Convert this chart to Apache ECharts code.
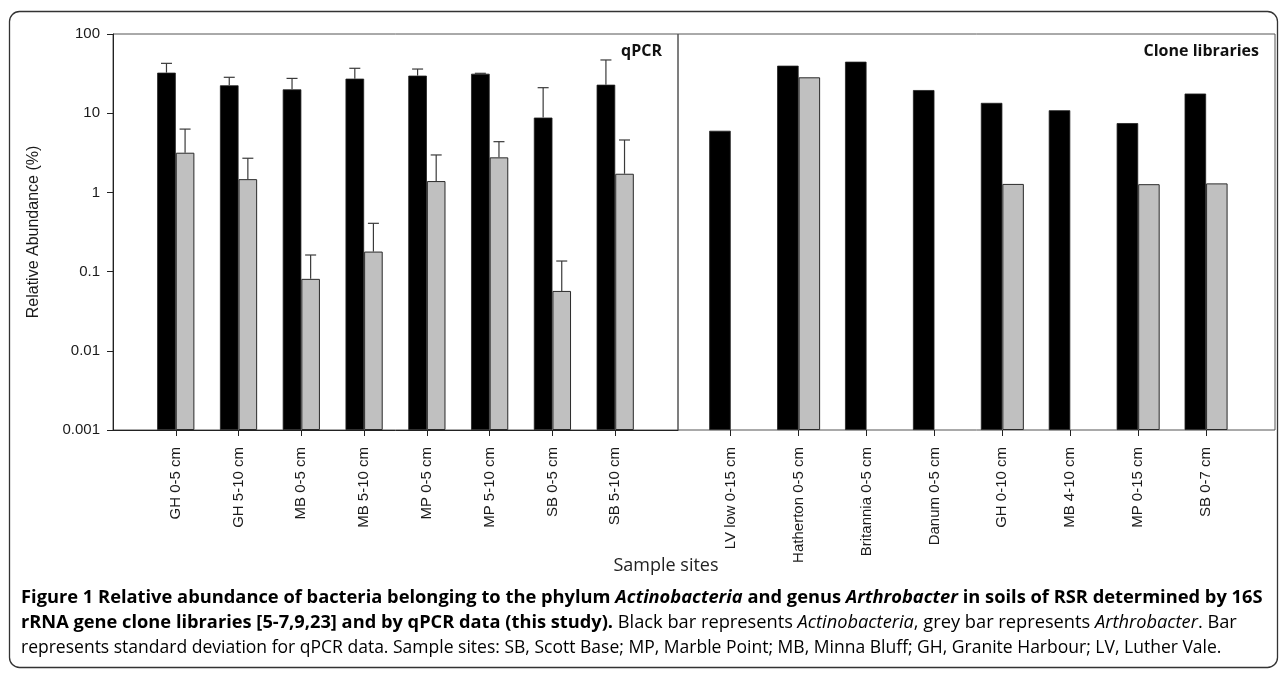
<!DOCTYPE html>
<html><head><meta charset="utf-8">
<script src="https://cdn.jsdelivr.net/npm/echarts@6/dist/echarts.min.js"></script>
<style>html,body{margin:0;padding:0;background:#fff}#c{width:1282px;height:675px}</style>
</head><body><div id="c"></div>
<script>
// ---------- data ----------
const qpcrSites = ['GH 0-5 cm','GH 5-10 cm','MB 0-5 cm','MB 5-10 cm','MP 0-5 cm','MP 5-10 cm','SB 0-5 cm','SB 5-10 cm'];
const qpcrActinobacteria   = [32.5, 22.5, 20.0, 27.3, 29.8, 31.5, 8.8, 22.9];
const qpcrActinobacteriaSD = [10.1, 5.9, 7.5, 9.6, 6.3, 0.4, 12.2, 24.1];
const qpcrArthrobacter     = [3.17, 1.47, 0.081, 0.179, 1.39, 2.77, 0.057, 1.72];
const qpcrArthrobacterSD   = [3.13, 1.23, 0.081, 0.228, 1.58, 1.60, 0.079, 2.87];
const cloneSites = ['LV low 0-15 cm','Hatherton 0-5 cm','Britannia 0-5 cm','Danum 0-5 cm','GH 0-10 cm','MB 4-10 cm','MP 0-15 cm','SB 0-7 cm'];
const cloneActinobacteria = [6.0, 39.8, 44.7, 19.6, 13.5, 10.9, 7.5, 17.7];
const cloneArthrobacter   = [null, 28.4, null, null, 1.28, null, 1.27, 1.30];
const yTickLabels = ['0.001','0.01','0.1','1','10','100'];

// ---------- helpers ----------
const pad = a => [null, ...a, null];
const padCat = a => ['', ...a, ''];
const AX = '#222', FR = '#555';
const LBL = {fontFamily:'"Liberation Sans", Arial, sans-serif', fontSize:15, color:'#1a1a1a'};

function errRender(barW, side){
  return function(params, api){
    const idx = api.value(0), mean = api.value(1), sd = api.value(2);
    const p0 = api.coord([idx, mean]);
    const p1 = api.coord([idx, mean + sd]);
    const x = p0[0] + side * barW / 2, cap = 5.5;
    const st = {stroke:'#3a3a3a', lineWidth:1.2};
    return {type:'group', children:[
      {type:'line', shape:{x1:x, y1:p0[1], x2:x, y2:p1[1]}, style:st},
      {type:'line', shape:{x1:x-cap, y1:p1[1], x2:x+cap, y2:p1[1]}, style:st}
    ]};
  };
}
const LW = 18.6, RW = 21.5;

function xCat(grid, cats, showLine){
  return {
    type:'category', gridIndex:grid, data:padCat(cats), boundaryGap:false,
    axisLine:{show:showLine, lineStyle:{color:AX, width:1}},
    axisTick:{show:true, length:6, interval:(i, v) => v !== '', lineStyle:{color:AX}},
    axisLabel:Object.assign({rotate:90, margin:17, interval:0}, LBL),
    splitLine:{show:false}
  };
}
function yLog(grid, show){
  return {
    type:'log', logBase:10, gridIndex:grid, min:0.001, max:100, startValue:0.001, show:show,
    axisLine:{show:true, lineStyle:{color:AX, width:1}},
    axisTick:{show:true, length:6, lineStyle:{color:AX}},
    axisLabel:Object.assign({margin:13, formatter:v => yTickLabels[Math.round(Math.log10(v)) + 3]}, LBL),
    splitLine:{show:false}, minorTick:{show:false},
    name: show ? 'Relative Abundance (%)' : '', nameLocation:'middle', nameGap:71,
    nameTextStyle:{fontFamily:'"Liberation Sans", Arial, sans-serif', fontSize:16, color:'#1a1a1a'}
  };
}

// ---------- caption fitting ----------
const ctx = document.createElement('canvas').getContext('2d');
const CF = '"Open Sans", sans-serif';
const sty = {
  red:{fontWeight:'bold', fontStyle:'normal', color:'#c0272d'},
  b:{fontWeight:'bold', fontStyle:'normal', color:'#111'},
  bi:{fontWeight:'bold', fontStyle:'italic', color:'#111'},
  r:{fontWeight:'normal', fontStyle:'normal', color:'#333'},
  ri:{fontWeight:'normal', fontStyle:'italic', color:'#333'}
};
function measure(parts, size){
  let w = 0;
  parts.forEach(([k, t]) => { ctx.font = `${sty[k].fontStyle} ${sty[k].fontWeight} ${size}px ${CF}`; w += ctx.measureText(t).width; });
  return w;
}
function captionLine(parts, target, y){
  const size = 16 * target / measure(parts, 16);
  const rich = {};
  Object.keys(sty).forEach(k => rich[k] = Object.assign({fontSize:size, fontFamily:CF}, sty[k]));
  return {type:'text', left:21, top:y - size*0.65, silent:true,
    style:{text: parts.map(([k, t]) => `{${k}|${t}}`).join(''), rich: rich}};
}
const cap1 = [['red','Figure 1'],['b',' Relative abundance of bacteria belonging to the phylum '],['bi','Actinobacteria'],['b',' and genus '],['bi','Arthrobacter'],['b',' in soils of RSR determined by 16S']];
const cap2 = [['b','rRNA gene clone libraries [5-7,9,23] and by qPCR data (this study).'],['r',' Black bar represents '],['ri','Actinobacteria'],['r',', grey bar represents '],['ri','Arthrobacter'],['r','. Bar']];
const cap3 = [['r','represents standard deviation for qPCR data. Sample sites: SB, Scott Base; MP, Marble Point; MB, Minna Bluff; GH, Granite Harbour; LV, Luther Vale.']];

// ---------- chart ----------
const chart = echarts.init(document.getElementById('c'), null, {renderer:'canvas'});
chart.setOption({
  animation:false,
  backgroundColor:'#fff',
  grid:[
    {left:113, top:34, width:565, height:396, show:true, borderColor:FR, borderWidth:1, backgroundColor:'transparent'},
    {left:662.8, top:34, width:611.2, height:396, show:false},
    {left:678, top:34, width:597, height:396, show:true, borderColor:FR, borderWidth:1, backgroundColor:'transparent'}
  ],
  xAxis:[
    xCat(0, qpcrSites, true),
    xCat(1, cloneSites, false),
    {type:'value', gridIndex:2, show:false}
  ],
  yAxis:[
    yLog(0, true),
    yLog(1, false),
    {type:'value', gridIndex:2, show:false}
  ],
  series:[
    {type:'bar', name:'Actinobacteria', xAxisIndex:0, yAxisIndex:0, data:pad(qpcrActinobacteria), barWidth:LW, barGap:'0%',
      itemStyle:{color:'#000', borderColor:'#222', borderWidth:0.8}},
    {type:'bar', name:'Arthrobacter', xAxisIndex:0, yAxisIndex:0, data:pad(qpcrArthrobacter), barWidth:LW, barGap:'0%',
      itemStyle:{color:'#c0c0c0', borderColor:'#2a2a2a', borderWidth:1}},
    {type:'custom', xAxisIndex:0, yAxisIndex:0, z:5, renderItem:errRender(LW, -1),
      data:qpcrActinobacteria.map((v, i) => [i + 1, v, qpcrActinobacteriaSD[i]])},
    {type:'custom', xAxisIndex:0, yAxisIndex:0, z:5, renderItem:errRender(LW, 1),
      data:qpcrArthrobacter.map((v, i) => [i + 1, v, qpcrArthrobacterSD[i]])},
    {type:'bar', name:'Actinobacteria clone', xAxisIndex:1, yAxisIndex:1, data:pad(cloneActinobacteria), barWidth:RW, barGap:'0%',
      itemStyle:{color:'#000', borderColor:'#222', borderWidth:0.8}},
    {type:'bar', name:'Arthrobacter clone', xAxisIndex:1, yAxisIndex:1, data:pad(cloneArthrobacter), barWidth:RW, barGap:'0%',
      itemStyle:{color:'#c0c0c0', borderColor:'#2a2a2a', borderWidth:1}}
  ],
  graphic:[
    {type:'rect', silent:true, z:-1, shape:{x:9.5, y:11.5, width:1268, height:656, r:10},
      style:{fill:'none', stroke:'#333', lineWidth:1.3}},
    {type:'text', silent:true, style:{text:'qPCR', x:662, y:51, align:'right', verticalAlign:'middle',
      font:'bold 16px "Open Sans", sans-serif', fill:'#111'}},
    {type:'text', silent:true, style:{text:'Clone libraries', x:1259, y:51, align:'right', verticalAlign:'middle',
      font:'bold 16px "Open Sans", sans-serif', fill:'#111'}},
    {type:'text', silent:true, style:{text:'Sample sites', x:666, y:566, align:'center', verticalAlign:'middle',
      font:'18px "Open Sans", sans-serif', fill:'#222'}},
    captionLine(cap1, 1243, 601),
    captionLine(cap2, 1216, 626),
    captionLine(cap3, 1201, 650)
  ]
});
</script></body></html>
